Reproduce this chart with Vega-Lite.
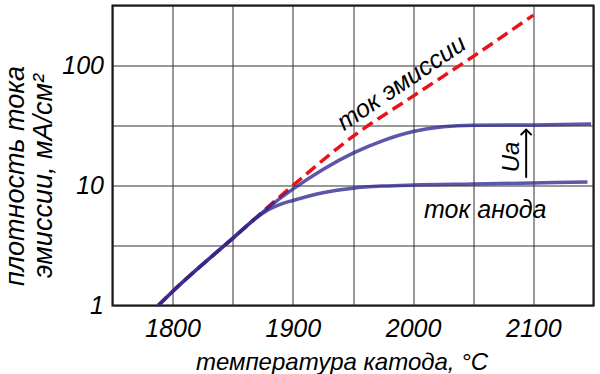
{
  "$schema": "https://vega.github.io/schema/vega-lite/v6.json",
  "width": 481,
  "height": 300,
  "autosize": "none",
  "padding": {"left": 112.5, "top": 5.5, "right": 6, "bottom": 68},
  "background": "white",
  "config": {
    "font": "Liberation Sans",
    "view": {"stroke": "black", "strokeWidth": 2},
    "axis": {
      "labelFont": "Liberation Sans",
      "titleFont": "Liberation Sans",
      "labelFontStyle": "italic",
      "titleFontStyle": "italic",
      "titleFontWeight": "normal",
      "labelColor": "black",
      "titleColor": "black",
      "labelFontSize": 25,
      "titleFontSize": 24,
      "ticks": false,
      "domain": false,
      "gridColor": "#333333",
      "gridWidth": 1,
      "gridOpacity": 1,
      "labelFlush": false,
      "labelOverlap": false
    }
  },
  "datasets": {
    "emission": [
      {"T": 1788, "J": 1.0},
      {"T": 1800, "J": 1.31},
      {"T": 1850, "J": 3.63},
      {"T": 1900, "J": 10.0},
      {"T": 1950, "J": 25.7},
      {"T": 2000, "J": 55.6},
      {"T": 2050, "J": 119},
      {"T": 2100, "J": 263}
    ],
    "anode": [
      {"s": "high", "T": 1788, "J": 1.0},
      {"s": "high", "T": 1800, "J": 1.31},
      {"s": "high", "T": 1850, "J": 3.63},
      {"s": "high", "T": 1870, "J": 5.45},
      {"s": "high", "T": 1885, "J": 7.24},
      {"s": "high", "T": 1900, "J": 9.33},
      {"s": "high", "T": 1925, "J": 13.6},
      {"s": "high", "T": 1950, "J": 18.6},
      {"s": "high", "T": 1975, "J": 23.7},
      {"s": "high", "T": 2000, "J": 28.2},
      {"s": "high", "T": 2025, "J": 30.9},
      {"s": "high", "T": 2050, "J": 31.8},
      {"s": "high", "T": 2100, "J": 32.0},
      {"s": "high", "T": 2148, "J": 32.5},
      {"s": "low", "T": 1788, "J": 1.0},
      {"s": "low", "T": 1800, "J": 1.31},
      {"s": "low", "T": 1850, "J": 3.63},
      {"s": "low", "T": 1870, "J": 5.4},
      {"s": "low", "T": 1880, "J": 6.3},
      {"s": "low", "T": 1890, "J": 7.0},
      {"s": "low", "T": 1900, "J": 7.5},
      {"s": "low", "T": 1925, "J": 8.7},
      {"s": "low", "T": 1950, "J": 9.5},
      {"s": "low", "T": 1975, "J": 9.9},
      {"s": "low", "T": 2000, "J": 10.1},
      {"s": "low", "T": 2050, "J": 10.3},
      {"s": "low", "T": 2100, "J": 10.5},
      {"s": "low", "T": 2145, "J": 10.7}
    ],
    "arrow": [{"T": 2094, "y1": 11.6, "y2": 29.2}],
    "labels": [
      {"T": 1994, "J": 63, "text": "ток эмиссии", "angle": 326},
      {"T": 2060, "J": 5.38, "text": "ток анода", "angle": 0}
    ],
    "ua": [{"T": 2082, "J": 17.3, "text": "Ua"}]
  },
  "layer": [
    {
      "data": {"name": "emission"},
      "mark": {"type": "line", "color": "#e8141c", "strokeWidth": 3.5, "strokeDash": [12, 6], "interpolate": "monotone", "clip": true},
      "encoding": {
        "x": {
          "field": "T", "type": "quantitative",
          "scale": {"domain": [1750, 2150], "nice": false, "zero": false},
          "axis": {
            "values": [1750, 1800, 1850, 1900, 1950, 2000, 2050, 2100, 2150],
            "format": "d",
            "labelExpr": "datum.value % 100 == 0 ? datum.label : ''",
            "labelPadding": 11,
            "title": "температура катода, °C",
            "titleX": 229,
            "titleY": 64,
            "titleAlign": "center",
            "titleBaseline": "alphabetic"
          }
        },
        "y": {
          "field": "J", "type": "quantitative",
          "scale": {"type": "log", "domain": [1, 316.23], "nice": false},
          "axis": {
            "values": [1, 3.1623, 10, 31.623, 100, 316.23],
            "labelExpr": "datum.value == 1 || datum.value == 10 || datum.value == 100 ? format(datum.value, 'd') : ''",
            "labelPadding": 9,
            "title": ["плотность тока", "эмиссии, мА/см²"],
            "titleFontSize": 27,
            "titleX": -89,
            "titleY": 170,
            "titleAlign": "center",
            "titleBaseline": "alphabetic",
            "titleLineHeight": 28
          }
        }
      }
    },
    {
      "data": {"name": "anode"},
      "mark": {"type": "line", "color": "#2e2890", "opacity": 0.78, "strokeWidth": 3.5, "interpolate": "monotone"},
      "encoding": {
        "x": {"field": "T", "type": "quantitative"},
        "y": {"field": "J", "type": "quantitative"},
        "detail": {"field": "s"}
      }
    },
    {
      "data": {"name": "arrow"},
      "mark": {"type": "rule", "color": "black", "strokeWidth": 2},
      "encoding": {
        "x": {"field": "T", "type": "quantitative"},
        "y": {"field": "y1", "type": "quantitative"},
        "y2": {"field": "y2"}
      }
    },
    {
      "data": {"name": "arrow"},
      "mark": {"type": "point", "shape": "M-1,1L0,0L1,1", "filled": false, "color": "black", "strokeWidth": 2, "size": 121, "opacity": 1},
      "encoding": {
        "x": {"field": "T", "type": "quantitative"},
        "y": {"field": "y2", "type": "quantitative"}
      }
    },
    {
      "data": {"name": "labels"},
      "mark": {"type": "text", "font": "Liberation Sans", "fontStyle": "italic", "fontSize": 25, "align": "center", "baseline": "alphabetic", "color": "black"},
      "encoding": {
        "x": {"field": "T", "type": "quantitative"},
        "y": {"field": "J", "type": "quantitative"},
        "text": {"field": "text"},
        "angle": {"field": "angle", "type": "quantitative", "scale": null}
      }
    },
    {
      "data": {"name": "ua"},
      "mark": {"type": "text", "font": "Liberation Sans", "fontStyle": "italic", "fontSize": 24, "align": "center", "baseline": "middle", "angle": 270, "color": "black"},
      "encoding": {
        "x": {"field": "T", "type": "quantitative"},
        "y": {"field": "J", "type": "quantitative"},
        "text": {"field": "text"}
      }
    }
  ]
}
